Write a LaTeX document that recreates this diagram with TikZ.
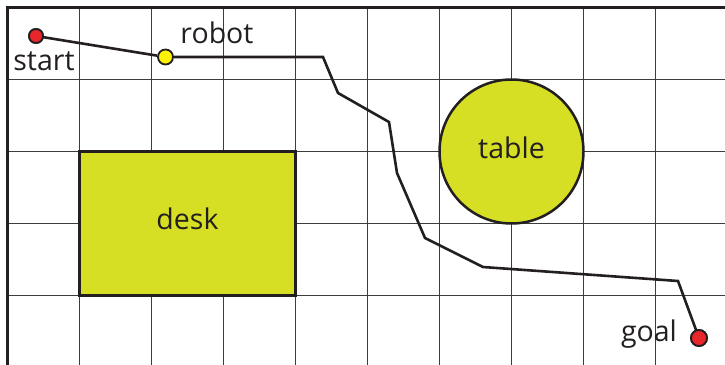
\documentclass[tikz,border=0pt]{standalone}
\usepackage{fontspec}
\setmainfont{Open Sans}
\definecolor{ink}{RGB}{35,31,32}
\definecolor{gridc}{RGB}{60,60,60}
\definecolor{obj}{RGB}{214,223,35}
\definecolor{dotred}{RGB}{232,38,43}
\definecolor{dotyel}{RGB}{255,242,0}
\tikzset{
  gridline/.style={draw=gridc, line width=1.6pt},
  frame/.style={draw=ink, line width=3pt},
  obstacle/.style={draw=ink, line width=2.5pt, fill=obj, inner sep=0pt},
  dot/.style={circle, draw=ink, line width=1.8pt, minimum size=14pt, inner sep=0pt},
  route/.style={draw=ink, line width=2.6pt, line join=miter},
  lbl/.style={font=\fontsize{28.5}{31}\selectfont, text=ink, inner sep=0pt}
}
\begin{document}
\begin{tikzpicture}[x=1pt, y=-1pt]
\useasboundingbox (0,0) rectangle (725,364);
\fill[white] (0,0) rectangle (725,364);
% grid
\foreach \i in {1,...,9} \draw[gridline] (7.5+72*\i,7.5) -- (7.5+72*\i,367.5);
\foreach \j in {1,...,4} \draw[gridline] (7.5,7.5+72*\j) -- (727.5,7.5+72*\j);
\draw[frame] (7.5,7.5) rectangle (727.5,367.5);
% obstacles
\node[obstacle, rectangle, minimum width=216pt, minimum height=144pt] (desk) at (187.5,223.5) {};
\node[obstacle, circle, minimum size=144pt] (table) at (511.5,151.5) {};
\node[lbl] at (187.5,219) {desk};
\node[lbl] at (511.5,148) {table};
% route waypoints
\coordinate (w1) at (323,57);
\coordinate (w2) at (338,93);
\coordinate (w3) at (389,122);
\coordinate (w4) at (397,173);
\coordinate (w5) at (425,238);
\coordinate (w6) at (483,267);
\coordinate (w7) at (678,281);
\node[dot, fill=dotred] (start) at (36,36) {};
\node[dot, fill=dotyel, minimum size=15pt] (robot) at (165.5,57) {};
\node[dot, fill=dotred, minimum size=16pt] (goal) at (699,338) {};
\draw[route] (start.center) -- (robot);
\draw[route] (robot) -- (w1) -- (w2) -- (w3) -- (w4) -- (w5) -- (w6) -- (w7) -- (goal.center);
\node[dot, fill=dotred] at (start) {};
\node[dot, fill=dotred, minimum size=16pt] at (goal) {};
% labels
\node[lbl] (startlbl) at (44,61) {start};
\node[lbl] (robotlbl) at (217,33) {robot};
\node[lbl] (goallbl) at (649,334) {goal};
\end{tikzpicture}
\end{document}
